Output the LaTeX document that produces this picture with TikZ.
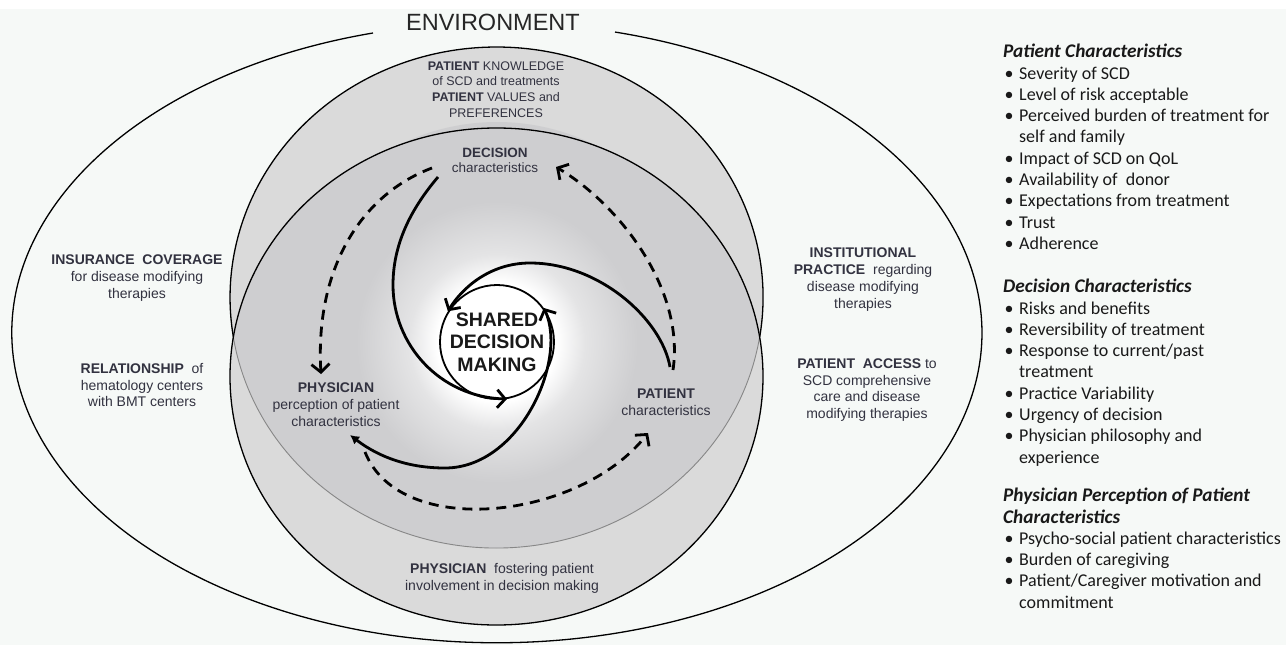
\documentclass[tikz,border=0pt]{standalone}
\usepackage{fontspec}
\setmainfont{Liberation Sans}
\newfontfamily\listfont{Carlito}
\usetikzlibrary{arrows.meta}

\definecolor{paper}{RGB}{246,249,247}
\definecolor{ringgray}{RGB}{218,218,218}
\definecolor{coregray}{RGB}{206,206,208}
\definecolor{inkgray}{RGB}{50,50,64}
\definecolor{seamgray}{RGB}{135,135,135}

% soft white glow round the centre (path radius = 25bp)
\pgfdeclareradialshading{glow}{\pgfpointorigin}{color(0bp)=(white); color(6.8bp)=(white); color(10bp)=(white!45!coregray); color(16bp)=(coregray); color(50bp)=(coregray)}

% bullet lines for the side lists
\newcommand{\bitem}[1]{\makebox[16pt][l]{\hspace*{1.5pt}\textbullet}#1}
\newcommand{\bcont}[1]{\hspace*{16pt}#1}
\newcommand{\listhead}[1]{{\fontsize{19.3}{21.3}\selectfont\textbf{\textit{#1}}}}

\begin{document}
\begin{tikzpicture}[
    x=1pt, y=-1pt,
    >=Stealth,
    lbl/.style={align=center, text=inkgray, inner sep=0pt, font=\fontsize{14}{17}\selectfont},
    edge/.style={line width=1.3pt},
    arm/.style={line width=2.8pt, -{Straight Barb[length=8pt,width=18pt]}},
    dasharm/.style={line width=2.8pt, dash pattern=on 10pt off 7pt, -{Straight Barb[length=8pt,width=18pt]}},
    listbox/.style={anchor=north west, align=left, inner sep=0pt, text=black!90, font=\listfont\fontsize{18}{21.3}\selectfont}
]
    \useasboundingbox (0,0) rectangle (1286,645);

    % Background
    \fill[white] (0,0) rectangle (1286,645);
    \fill[paper] (0,9) rectangle (1286,645);

    % Two overlapping rings
    \fill[ringgray] (496.5,297.5) ellipse [x radius=266.5pt, y radius=250.5pt];
    \fill[ringgray] (496.5,376.5) ellipse [x radius=266.5pt, y radius=248.5pt];
    \begin{scope}
        \clip (496.5,297.5) ellipse [x radius=266.5pt, y radius=250.5pt];
        \fill[coregray] (496.5,376.5) ellipse [x radius=266.5pt, y radius=248.5pt];
        \shade[shading=glow] (497,342) circle (220pt);
    \end{scope}

    % Outlines
    % Environment (broken at the top for its title)
    \draw[edge] (373,33) arc [start angle=104.8, end angle=435.9, x radius=485pt, y radius=310pt];
    % Upper ring: black outside, grey seam inside the lower ring
    \draw[edge] (759.7,337) arc [start angle=-9.07, end angle=189.07, x radius=266.5pt, y radius=250.5pt];
    \draw[seamgray, line width=0.9pt] (233.3,337) arc [start angle=189.07, end angle=350.93, x radius=266.5pt, y radius=250.5pt];
    % Lower ring
    \draw[edge] (496.5,376.5) ellipse [x radius=266.5pt, y radius=248.5pt];

    % Centre
    \node[circle, draw, line width=1.8pt, minimum size=114pt, inner sep=0pt, align=center,
          text=black!90, font=\bfseries\fontsize{19.5}{22.5}\selectfont] (sdm) at (497,342) {SHARED\\DECISION\\MAKING};

    % Labels
    \node[text=black!85, font=\fontsize{23.5}{26}\selectfont] (env) at (493,22) {ENVIRONMENT};
    \node[lbl, font=\fontsize{12.5}{15.7}\selectfont] (know) at (496,89.5) {\textbf{PATIENT} KNOWLEDGE\\of SCD and treatments\\\textbf{PATIENT} VALUES and\\PREFERENCES};
    \node[lbl, font=\fontsize{13.5}{15}\selectfont] (dec) at (495,160) {\textbf{DECISION}\\characteristics};
    \node[lbl] (phys) at (336,404.5) {\textbf{PHYSICIAN}\\perception of patient\\characteristics};
    \node[lbl, font=\fontsize{14}{16.5}\selectfont] (pat) at (666,402) {\textbf{PATIENT}\\characteristics};
    \node[lbl, font=\fontsize{14}{16.6}\selectfont] (ins) at (137,278) {\textbf{INSURANCE\ \ COVERAGE}\\for disease modifying\\therapies};
    \node[lbl, font=\fontsize{14}{16.8}\selectfont] (rel) at (142,385) {\textbf{RELATIONSHIP}\ \ of\\hematology centers\\with BMT centers};
    \node[lbl, font=\fontsize{14}{17}\selectfont] (inst) at (863,280) {\textbf{INSTITUTIONAL}\\\textbf{PRACTICE}\ \ regarding\\disease modifying\\therapies};
    \node[lbl, font=\fontsize{14}{16.8}\selectfont] (acc) at (867,390) {\textbf{PATIENT\ \ ACCESS} to\\SCD comprehensive\\care and disease\\modifying therapies};
    \node[lbl, font=\fontsize{14}{17}\selectfont] (fost) at (502,578) {\textbf{PHYSICIAN}\ \ fostering patient\\involvement in decision making};

    % Arrow ends
    \coordinate (decArm) at (438,177);
    \coordinate (patArm) at (670,367);
    \coordinate (physArm) at (350,435);
    \coordinate (decDash) at (432,168);
    \coordinate (physTop) at (321,374);
    \coordinate (patDash) at (673,370);
    \coordinate (decTop) at (556,167);
    \coordinate (physLow) at (365,452);
    \coordinate (patLow) at (648,433);

    % Spiral arms into the centre
    \draw[arm] (decArm) .. controls (410,210) and (393,245) .. (393,285)
        .. controls (393,345) and (440,397) .. (sdm.-80);
    \draw[arm] (patArm) .. controls (662,320) and (600,263) .. (530,263)
        .. controls (490,263) and (462,288) .. (sdm.148);
    \draw[arm, {Latex[length=9pt,width=10pt]}-{Straight Barb[length=8pt,width=18pt]}]
        (physArm) .. controls (380,458) and (410,468) .. (445,468)
        .. controls (520,468) and (568,360) .. (sdm.36);

    % Dashed loop between the three characteristics
    \draw[dasharm] (decDash) .. controls (360,195) and (315,270) .. (physTop);
    \draw[dasharm] (patDash) .. controls (685,290) and (620,205) .. (decTop);
    \draw[dasharm] (physLow) .. controls (400,540) and (580,520) .. (patLow);

    % Side lists
    \node[listbox] (plist) at (1003,44) {\listhead{Patient Characteristics}\\
        \bitem{Severity of SCD}\\
        \bitem{Level of risk acceptable}\\
        \bitem{Perceived burden of treatment for}\\
        \bcont{self and family}\\
        \bitem{Impact of SCD on QoL}\\
        \bitem{Availability of\ \ donor}\\
        \bitem{Expectations from treatment}\\
        \bitem{Trust}\\
        \bitem{Adherence}};
    \node[listbox] (dlist) at (1003,279) {\listhead{Decision Characteristics}\\
        \bitem{Risks and benefits}\\
        \bitem{Reversibility of treatment}\\
        \bitem{Response to current/past}\\
        \bcont{treatment}\\
        \bitem{Practice Variability}\\
        \bitem{Urgency of decision}\\
        \bitem{Physician philosophy and}\\
        \bcont{experience}};
    \node[listbox] (ylist) at (1003,488) {\listhead{Physician Perception of Patient}\\
        \listhead{Characteristics}\\
        \bitem{Psycho-social patient characteristics}\\
        \bitem{Burden of caregiving}\\
        \bitem{Patient/Caregiver motivation and}\\
        \bcont{commitment}};

\end{tikzpicture}
\end{document}
